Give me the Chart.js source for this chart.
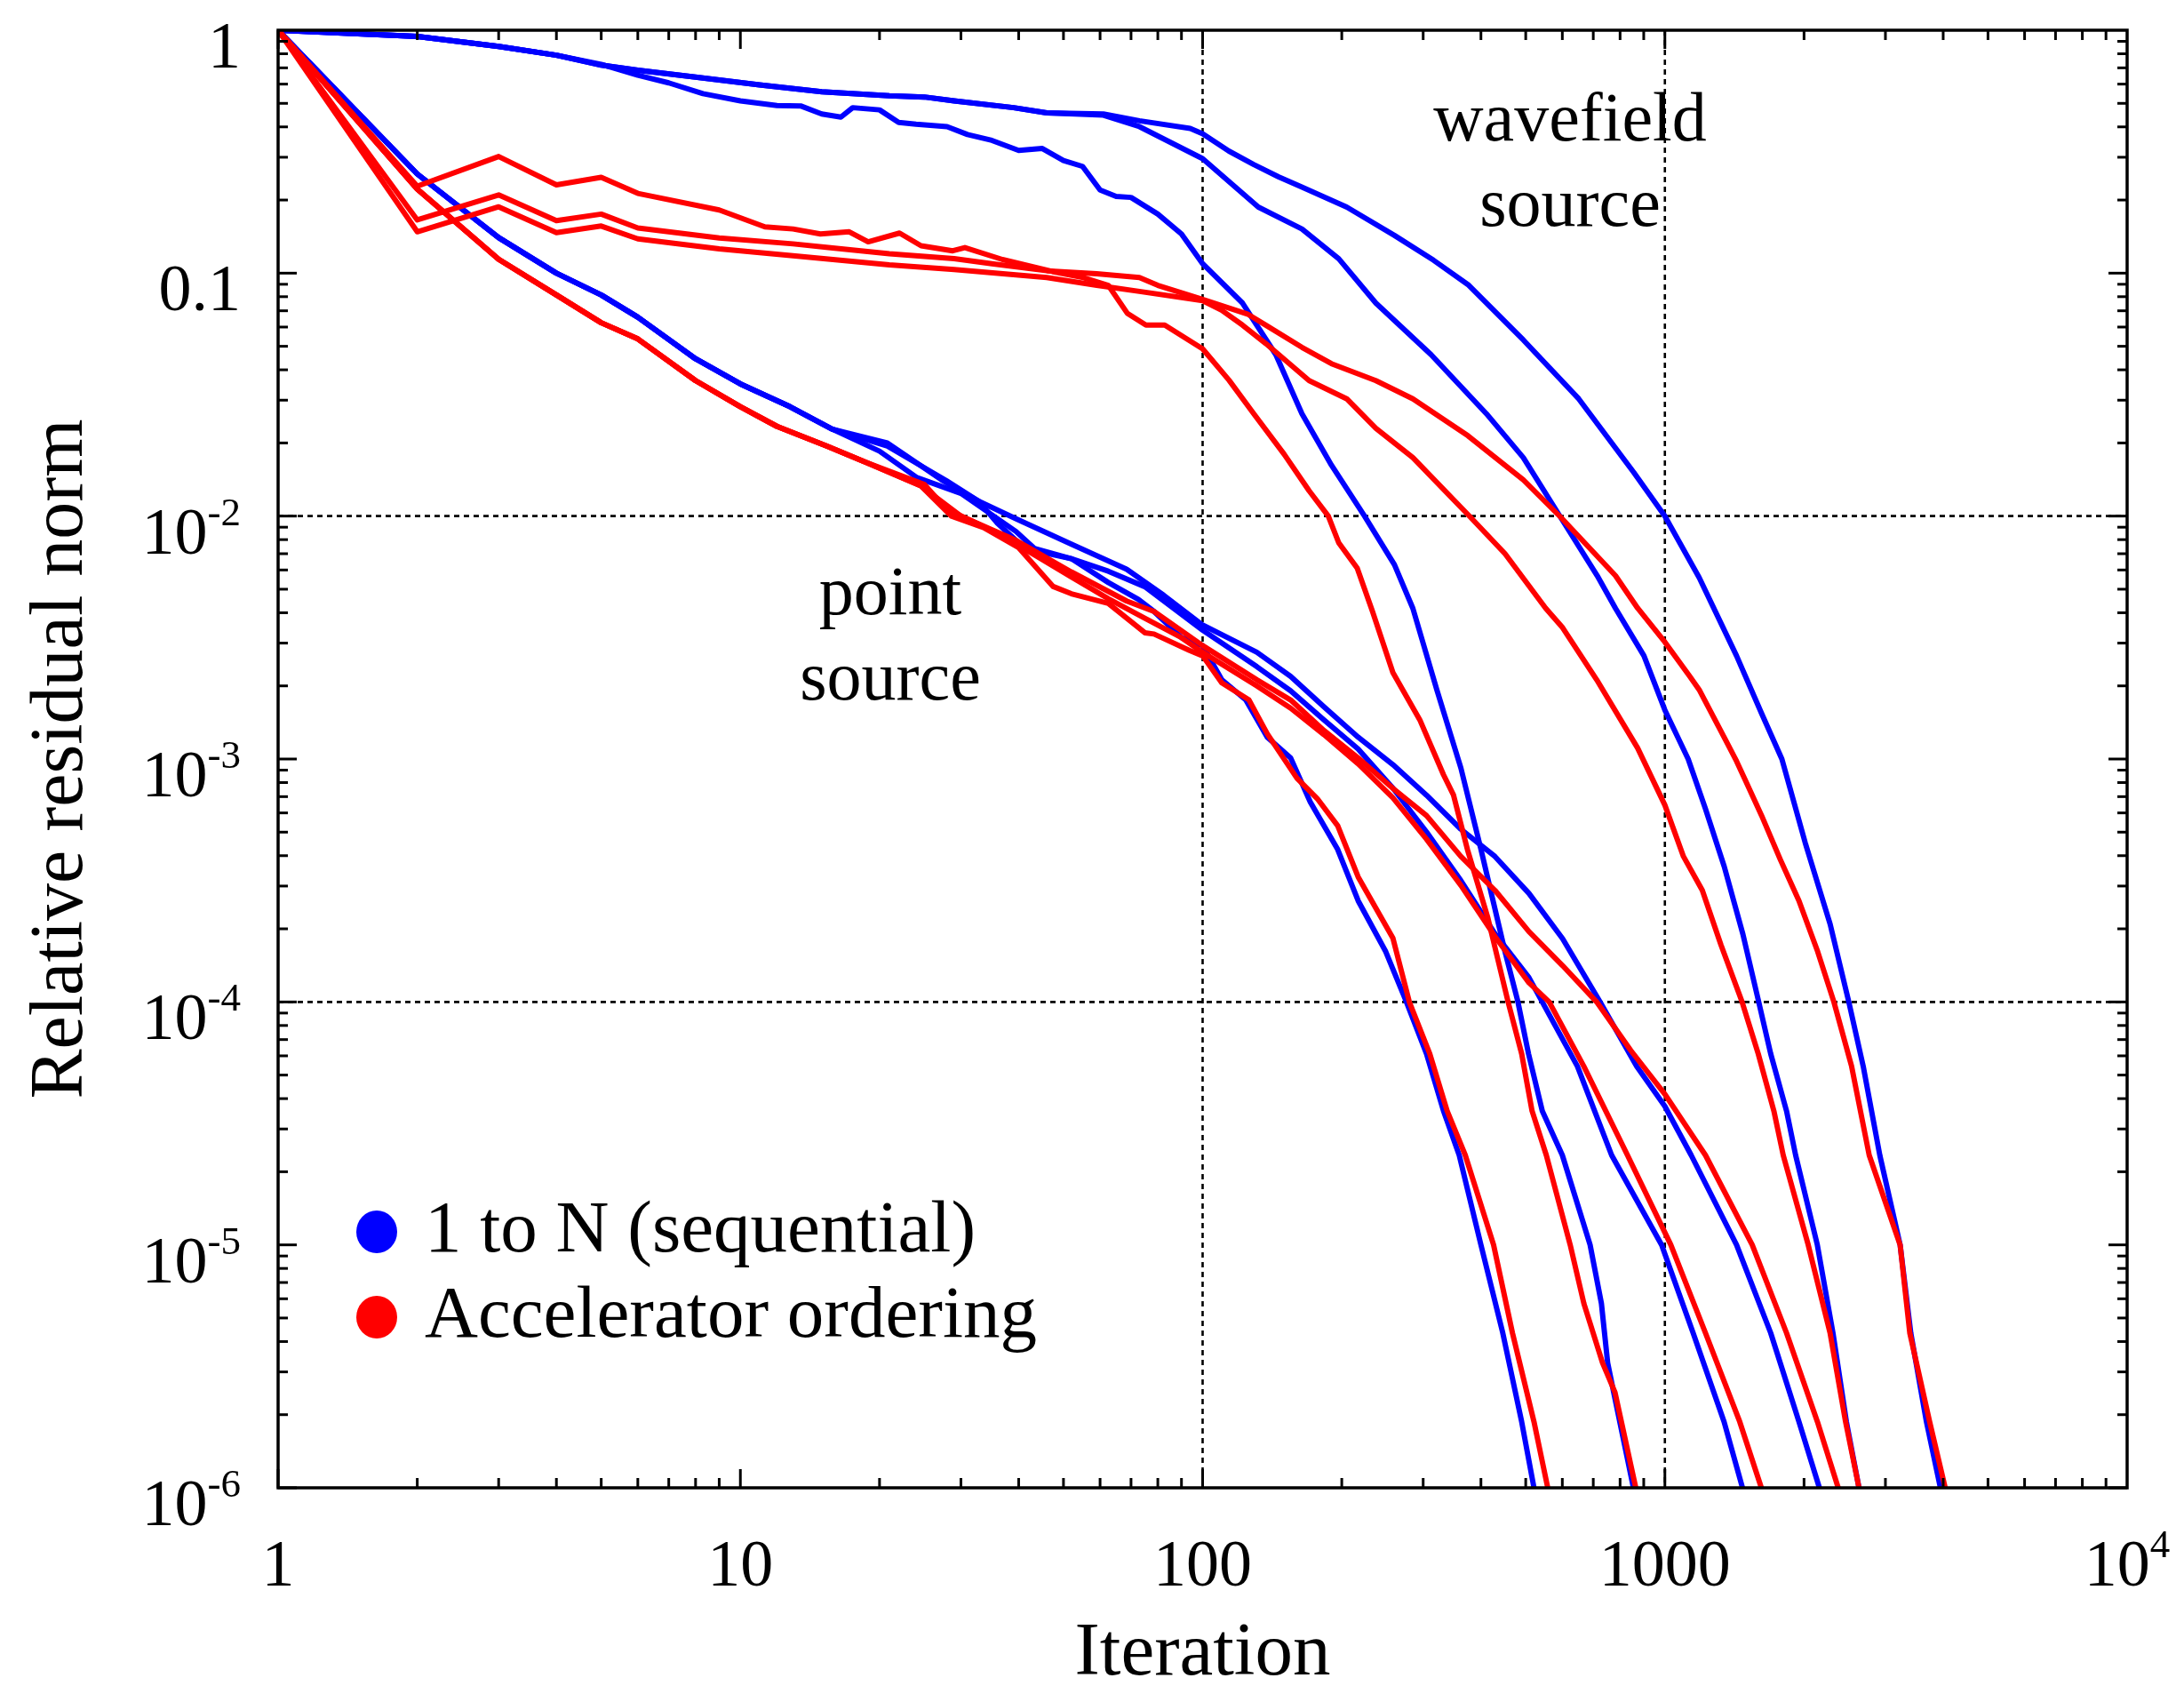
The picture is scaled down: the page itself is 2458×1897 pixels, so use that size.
<!DOCTYPE html>
<html>
<head>
<meta charset="utf-8">
<title>Relative residual norm vs iteration</title>
<script src="https://cdn.jsdelivr.net/npm/chart.js@4.4.0/dist/chart.umd.min.js"></script>
<style>
  html, body { margin: 0; padding: 0; background: #fff; }
  #wrap { width: 2458px; height: 1897px; }
</style>
</head>
<body>
<div id="wrap"><canvas id="chart" width="2458" height="1897"></canvas></div>
<script>
// Residual histories: iteration counts and relative residual norms.
// "Seq" = 1 to N (sequential) ordering, "Acc" = accelerator ordering.

// point source, fast case
const ptFastSeqIter = [1, 2, 3, 4, 5, 6, 8, 10, 12.8, 15.8, 20.8, 27.9, 32.8, 36, 40.3, 43.3, 52, 62.5, 72.6, 78.5, 90, 100, 110, 124, 138, 155, 171, 196, 217, 249, 276, 305, 332, 359, 400, 446, 490, 521];
const ptFastSeqRes = [1, 0.256, 0.14, 0.1, 0.0813, 0.0659, 0.0444, 0.035, 0.0282, 0.0228, 0.0194, 0.014, 0.0115, 0.00933, 0.00766, 0.00721, 0.00668, 0.00533, 0.00454, 0.00405, 0.00316, 0.00293, 0.00212, 0.00175, 0.00123, 0.00101, 6.65e-4, 4.24e-4, 2.61e-4, 1.61e-4, 1e-4, 6.12e-5, 3.56e-5, 2.34e-5, 1e-5, 4.34e-6, 1.87e-6, 1e-6];
const ptFastAccIter = [1, 2, 3, 4, 5, 6, 8, 10, 12, 15.4, 18.6, 24.6, 28.6, 33.6, 40, 47.5, 52, 62.5, 75, 78.5, 93.6, 100, 110, 126, 138, 160, 177, 196, 217, 258, 280, 310, 338, 370, 426, 468, 521, 558];
const ptFastAccRes = [1, 0.222, 0.114, 0.0813, 0.0625, 0.0536, 0.0361, 0.0282, 0.0234, 0.0194, 0.0167, 0.0133, 0.01, 0.00897, 0.00741, 0.00513, 0.00479, 0.00437, 0.00331, 0.00327, 0.0028, 0.00266, 0.00206, 0.00175, 0.00127, 8.34e-4, 6.87e-4, 5.31e-4, 3.27e-4, 1.83e-4, 1e-4, 6.12e-5, 3.56e-5, 2.34e-5, 1e-5, 4.34e-6, 1.87e-6, 1e-6];

// point source, middle case
const ptMidSeqIter = [1, 2, 3, 4, 5, 6, 8, 10, 12.8, 15.8, 20, 24.1, 30, 39.5, 43.3, 52, 62.5, 75, 100, 131, 155, 183, 217, 258, 305, 362, 429, 508, 543, 647, 767, 984, 1151, 1343, 1472];
const ptMidSeqRes = [1, 0.256, 0.14, 0.1, 0.0813, 0.0659, 0.0444, 0.035, 0.0282, 0.0228, 0.0185, 0.0144, 0.0124, 0.00863, 0.00735, 0.00668, 0.00593, 0.00512, 0.00339, 0.0024, 0.00191, 0.00145, 0.0011, 7.59e-4, 5.01e-4, 3.16e-4, 1.91e-4, 1.26e-4, 1e-4, 5.43e-5, 2.34e-5, 1e-5, 4.34e-6, 1.87e-6, 1e-6];
const ptMidAccIter = [1, 2, 3, 4, 5, 6, 8, 10, 12, 15.4, 18.6, 25, 27.9, 36, 43.3, 52, 62.5, 75, 90, 100, 131, 155, 183, 217, 258, 305, 362, 429, 508, 562, 668, 830, 1030, 1224, 1452, 1617];
const ptMidAccRes = [1, 0.222, 0.114, 0.0813, 0.0625, 0.0536, 0.0361, 0.0282, 0.0234, 0.0194, 0.0167, 0.0135, 0.0107, 0.00851, 0.00692, 0.00562, 0.00457, 0.0038, 0.00316, 0.00275, 0.002, 0.00162, 0.00126, 9.55e-4, 6.92e-4, 4.68e-4, 3.02e-4, 1.86e-4, 1.2e-4, 1e-4, 5.43e-5, 2.34e-5, 1e-5, 4.34e-6, 1.87e-6, 1e-6];

// point source, slow case
const ptSlowSeqIter = [1, 2, 3, 4, 5, 6, 8, 10, 12.8, 15.8, 20.8, 27.4, 32.8, 39.5, 52, 68.5, 82.4, 100, 131, 155, 183, 217, 258, 305, 362, 429, 508, 601, 724, 869, 1000, 1140, 1429, 1694, 1950, 2159];
const ptSlowSeqRes = [1, 0.256, 0.14, 0.1, 0.0813, 0.0659, 0.0444, 0.035, 0.0282, 0.0228, 0.02, 0.014, 0.0115, 0.00975, 0.00766, 0.00604, 0.00472, 0.00356, 0.00275, 0.00219, 0.00164, 0.00123, 9.48e-4, 7.1e-4, 5.14e-4, 3.97e-4, 2.8e-4, 1.82e-4, 1e-4, 5.43e-5, 3.72e-5, 2.34e-5, 1e-5, 4.34e-6, 1.87e-6, 1e-6];
const ptSlowAccIter = [1, 2, 3, 4, 5, 6, 8, 10, 12, 15.4, 18.6, 24.6, 30, 39.5, 52, 68.5, 78.5, 100, 131, 155, 183, 217, 258, 305, 362, 429, 508, 601, 712, 844, 1000, 1224, 1545, 1833, 2138, 2371];
const ptSlowAccRes = [1, 0.222, 0.114, 0.0813, 0.0625, 0.0536, 0.0361, 0.0282, 0.0234, 0.0194, 0.0167, 0.0133, 0.01, 0.00794, 0.00589, 0.00447, 0.00405, 0.00293, 0.00212, 0.00175, 0.00131, 0.00101, 7.57e-4, 5.85e-4, 3.97e-4, 2.88e-4, 1.95e-4, 1.41e-4, 1e-4, 6.31e-5, 4.17e-5, 2.34e-5, 1e-5, 4.34e-6, 1.87e-6, 1e-6];

// wavefield source, fast case
const wfFastSeqIter = [1, 2, 3, 4, 5, 6, 7, 8.3, 10, 12, 13.5, 15, 16.5, 17.5, 20, 22, 24, 28, 31, 35, 40, 45, 50, 55, 60, 65, 70, 80, 90, 100, 122, 144, 164, 190, 224, 260, 285, 321, 362, 400, 451, 481, 507, 543, 600, 689, 729, 752, 775, 855];
const wfFastSeqRes = [1, 0.942, 0.857, 0.789, 0.724, 0.653, 0.607, 0.548, 0.512, 0.49, 0.488, 0.452, 0.439, 0.48, 0.47, 0.417, 0.41, 0.401, 0.372, 0.352, 0.32, 0.326, 0.291, 0.275, 0.22, 0.207, 0.205, 0.175, 0.145, 0.1094, 0.0753, 0.0462, 0.0264, 0.0162, 0.01, 0.00631, 0.00417, 0.00193, 9.18e-4, 4.25e-4, 1.61e-4, 1e-4, 6.12e-5, 3.56e-5, 2.34e-5, 1e-5, 5.74e-6, 3.27e-6, 2.47e-6, 1e-6];
const wfFastAccIter = [1, 2, 3, 4, 5, 6, 9, 11.3, 13, 14.9, 17.2, 18.9, 22.1, 24.6, 28.8, 30.6, 36.9, 47.3, 55.2, 62.5, 68.7, 75.4, 82.8, 100, 114, 129, 150, 170, 187, 197, 216, 233, 258, 295, 332, 349, 374, 414, 458, 490, 516, 554, 624, 668, 733, 780, 865];
const wfFastAccRes = [1, 0.228, 0.302, 0.231, 0.248, 0.213, 0.182, 0.155, 0.152, 0.145, 0.148, 0.1346, 0.1462, 0.1297, 0.1236, 0.1274, 0.1138, 0.1016, 0.0959, 0.0891, 0.0684, 0.0611, 0.0611, 0.0488, 0.0363, 0.0264, 0.018, 0.0127, 0.01, 0.00776, 0.0061, 0.00406, 0.00227, 0.00145, 8.61e-4, 7.1e-4, 4.24e-4, 2.22e-4, 1e-4, 6.12e-5, 3.56e-5, 2.34e-5, 1e-5, 5.74e-6, 3.27e-6, 2.47e-6, 1e-6];

// wavefield source, middle case
const wfMidSeqIter = [1, 2, 3, 4, 5, 6, 8, 11, 15, 21, 25, 29, 39, 46, 61, 73, 100, 132, 164, 197, 237, 312, 411, 494, 594, 714, 782, 901, 1000, 1123, 1224, 1344, 1475, 1596, 1694, 1833, 1918, 2137, 2310, 2470, 2630];
const wfMidSeqRes = [1, 0.942, 0.857, 0.789, 0.718, 0.684, 0.641, 0.596, 0.558, 0.537, 0.531, 0.512, 0.48, 0.457, 0.447, 0.401, 0.296, 0.187, 0.152, 0.1146, 0.0753, 0.0462, 0.0264, 0.0174, 0.00993, 0.00568, 0.00417, 0.00266, 0.00159, 0.001, 6.24e-4, 3.61e-4, 1.9e-4, 1e-4, 6.12e-5, 3.56e-5, 2.34e-5, 1e-5, 4.34e-6, 1.87e-6, 1e-6];
const wfMidAccIter = [1, 2, 3, 4, 5, 6, 9, 13, 21, 29, 46, 59, 73, 100, 110, 122, 137, 170, 205, 237, 285, 379, 451, 552, 601, 712, 873, 1000, 1097, 1205, 1322, 1469, 1592, 1721, 1803, 2042, 2277, 2460, 2630];
const wfMidAccRes = [1, 0.148, 0.1875, 0.1469, 0.1563, 0.1384, 0.1259, 0.118, 0.1081, 0.1035, 0.0959, 0.0891, 0.0841, 0.0771, 0.0703, 0.0611, 0.0513, 0.0361, 0.0304, 0.023, 0.0174, 0.00993, 0.007, 0.00418, 0.00347, 0.00212, 0.00111, 6.46e-4, 3.97e-4, 2.88e-4, 1.72e-4, 1e-4, 6.12e-5, 3.56e-5, 2.34e-5, 1e-5, 4.34e-6, 1.87e-6, 1e-6];

// wavefield source, slow case
const wfSlowSeqIter = [1, 2, 3, 4, 5, 6, 8, 11, 15, 21, 25, 29, 39, 46, 61, 73, 94, 100, 114, 129, 146, 164, 205, 260, 316, 375, 494, 651, 857, 1000, 1186, 1429, 1619, 1791, 2012, 2278, 2500, 2686, 2917, 3228, 3404, 3680, 3945];
const wfSlowSeqRes = [1, 0.942, 0.857, 0.789, 0.718, 0.684, 0.641, 0.596, 0.558, 0.537, 0.531, 0.512, 0.48, 0.457, 0.452, 0.424, 0.394, 0.375, 0.318, 0.28, 0.249, 0.226, 0.187, 0.143, 0.113, 0.0897, 0.0531, 0.0304, 0.0151, 0.01, 0.00559, 0.00266, 0.00154, 0.001, 4.52e-4, 2.09e-4, 1e-4, 5.43e-5, 2.34e-5, 1e-5, 4.34e-6, 1.87e-6, 1e-6];
const wfSlowAccIter = [1, 2, 3, 4, 5, 6, 9, 13, 15.5, 21, 29, 35, 46, 59, 73, 80, 100, 125, 137, 164, 190, 237, 285, 375, 494, 594, 782, 873, 1000, 1132, 1186, 1343, 1429, 1498, 1619, 1778, 1950, 2141, 2321, 2535, 2767, 3228, 3387, 3739, 4040];
const wfSlowAccRes = [1, 0.1656, 0.21, 0.1644, 0.175, 0.1535, 0.1396, 0.132, 0.1274, 0.1202, 0.1148, 0.1094, 0.1023, 0.0995, 0.0959, 0.0891, 0.078, 0.0679, 0.0611, 0.0495, 0.0424, 0.0361, 0.0304, 0.0214, 0.0141, 0.00993, 0.00568, 0.00418, 0.00303, 0.00219, 0.00193, 0.00123, 9.8e-4, 8.07e-4, 5.85e-4, 3.85e-4, 2.61e-4, 1.61e-4, 1e-4, 5.43e-5, 2.34e-5, 1e-5, 4.34e-6, 1.87e-6, 1e-6];

// axes
const xTickValues = [1, 10, 100, 1000, 10000];
const xTickBase = ['1', '10', '100', '1000', '10'];
const xTickExp = ['', '', '', '', '4'];
const yTickValues = [1, 0.1, 0.01, 1e-3, 1e-4, 1e-5, 1e-6];
const yTickBase = ['1', '0.1', '10', '10', '10', '10', '10'];
const yTickExp = ['', '', '-2', '-3', '-4', '-5', '-6'];
const xGridValues = [100, 1000];
const yGridValues = [1e-2, 1e-4];

const legendLabels = ['1 to N (sequential)', 'Accelerator ordering'];

const BLUE = '#0000ff';
const RED = '#ff0000';
const FONT = '"Liberation Serif", "Times New Roman", serif';

function toPoints(xs, ys) {
  return xs.map((x, i) => ({ x: x, y: ys[i] }));
}

function lineSet(label, xs, ys, color) {
  return {
    label: label,
    data: toPoints(xs, ys),
    borderColor: color,
    backgroundColor: color,
    borderWidth: 6,
    pointRadius: 0,
    fill: false,
    tension: 0,
    borderJoinStyle: 'round',
    borderCapStyle: 'round'
  };
}

// first datasets are drawn last, so the red curves sit on top like in the figure
const datasets = [
  lineSet('point source A, accelerator', ptFastAccIter, ptFastAccRes, RED),
  lineSet('point source B, accelerator', ptMidAccIter, ptMidAccRes, RED),
  lineSet('point source C, accelerator', ptSlowAccIter, ptSlowAccRes, RED),
  lineSet('wavefield A, accelerator', wfFastAccIter, wfFastAccRes, RED),
  lineSet('wavefield B, accelerator', wfMidAccIter, wfMidAccRes, RED),
  lineSet('wavefield C, accelerator', wfSlowAccIter, wfSlowAccRes, RED),
  lineSet('point source A, sequential', ptFastSeqIter, ptFastSeqRes, BLUE),
  lineSet('point source B, sequential', ptMidSeqIter, ptMidSeqRes, BLUE),
  lineSet('point source C, sequential', ptSlowSeqIter, ptSlowSeqRes, BLUE),
  lineSet('wavefield A, sequential', wfFastSeqIter, wfFastSeqRes, BLUE),
  lineSet('wavefield B, sequential', wfMidSeqIter, wfMidSeqRes, BLUE),
  lineSet('wavefield C, sequential', wfSlowSeqIter, wfSlowSeqRes, BLUE)
];

function segment(ctx, x1, y1, x2, y2) {
  ctx.beginPath();
  ctx.moveTo(x1, y1);
  ctx.lineTo(x2, y2);
  ctx.stroke();
}

// number with an optional raised exponent, e.g. 10^-3
function drawPower(ctx, base, exp, x, baseline, align) {
  ctx.font = '74px ' + FONT;
  const wb = ctx.measureText(base).width;
  ctx.font = '45px ' + FONT;
  const we = exp ? ctx.measureText(exp).width : 0;
  const left = align === 'right' ? x - wb - we : x - (wb + we) / 2;
  ctx.textAlign = 'left';
  ctx.textBaseline = 'alphabetic';
  ctx.font = '74px ' + FONT;
  ctx.fillText(base, left, baseline);
  if (exp) {
    ctx.font = '45px ' + FONT;
    ctx.fillText(exp, left + wb, baseline - 32);
  }
}

const framePlugin = {
  id: 'framePlugin',
  beforeDatasetsDraw(chart) {
    const { ctx, chartArea: a, scales } = chart;
    ctx.save();
    ctx.strokeStyle = '#000';
    ctx.lineWidth = 2.6;
    ctx.setLineDash([6, 5]);
    xGridValues.forEach(v => {
      const px = scales.x.getPixelForValue(v);
      segment(ctx, px, a.top, px, a.bottom);
    });
    yGridValues.forEach(v => {
      const py = scales.y.getPixelForValue(v);
      segment(ctx, a.left, py, a.right, py);
    });
    ctx.restore();
  },
  afterDatasetsDraw(chart) {
    const { ctx, chartArea: a, scales } = chart;
    const x = scales.x, y = scales.y;
    ctx.save();
    ctx.strokeStyle = '#000';
    ctx.fillStyle = '#000';

    // inward ticks on all four sides
    ctx.lineWidth = 3;
    for (let d = 0; d < 4; d++) {
      for (let m = 1; m <= 9; m++) {
        const px = x.getPixelForValue(m * Math.pow(10, d));
        const len = m === 1 ? 21 : 11;
        segment(ctx, px, a.bottom, px, a.bottom - len);
        segment(ctx, px, a.top, px, a.top + len);
      }
    }
    for (let d = -6; d < 0; d++) {
      for (let m = 1; m <= 9; m++) {
        const py = y.getPixelForValue(m * Math.pow(10, d));
        const len = m === 1 ? 21 : 11;
        segment(ctx, a.left, py, a.left + len, py);
        segment(ctx, a.right, py, a.right - len, py);
      }
    }

    // frame
    ctx.lineWidth = 3.5;
    ctx.strokeRect(a.left, a.top, a.right - a.left, a.bottom - a.top);

    // tick labels
    yTickValues.forEach((v, i) => {
      drawPower(ctx, yTickBase[i], yTickExp[i], 271, y.getPixelForValue(v) + 42, 'right');
    });
    xTickValues.forEach((v, i) => {
      drawPower(ctx, xTickBase[i], xTickExp[i], x.getPixelForValue(v), a.bottom + 110, 'center');
    });

    // legend
    [BLUE, RED].forEach((c, i) => {
      const cy = 1386 + i * 96;
      ctx.fillStyle = c;
      ctx.beginPath();
      ctx.ellipse(424, cy, 23, 24, 0, 0, Math.PI * 2);
      ctx.fill();
      ctx.fillStyle = '#000';
      ctx.font = '83px ' + FONT;
      ctx.textAlign = 'left';
      ctx.textBaseline = 'alphabetic';
      ctx.fillText(legendLabels[i], 478, cy + 22);
    });

    // annotations
    ctx.font = '78px ' + FONT;
    ctx.textAlign = 'center';
    ctx.fillText('wavefield', 1767, 158);
    ctx.fillText('source', 1767, 254);
    ctx.fillText('point', 1002, 691);
    ctx.fillText('source', 1002, 787);
    ctx.restore();
  }
};

new Chart(document.getElementById('chart'), {
  type: 'line',
  data: { datasets: datasets },
  options: {
    responsive: false,
    devicePixelRatio: 1,
    animation: false,
    events: [],
    layout: { padding: { top: 34, right: 64, left: 0, bottom: 0 } },
    plugins: {
      legend: { display: false },
      tooltip: { enabled: false }
    },
    scales: {
      x: {
        type: 'logarithmic',
        min: 1,
        max: 10000,
        grid: { display: false },
        border: { display: false },
        ticks: { display: false },
        title: {
          display: true,
          text: 'Iteration',
          color: '#000',
          font: { family: FONT, size: 85 },
          padding: { top: 0, bottom: -16 }
        },
        afterFit: s => { s.height = 223; }
      },
      y: {
        type: 'logarithmic',
        min: 1e-6,
        max: 1,
        grid: { display: false },
        border: { display: false },
        ticks: { display: false },
        title: {
          display: true,
          text: 'Relative residual norm',
          color: '#000',
          font: { family: FONT, size: 84 },
          padding: { top: 20, bottom: 0 }
        },
        afterFit: s => { s.width = 313; }
      }
    }
  },
  plugins: [framePlugin]
});
</script>
</body>
</html>
